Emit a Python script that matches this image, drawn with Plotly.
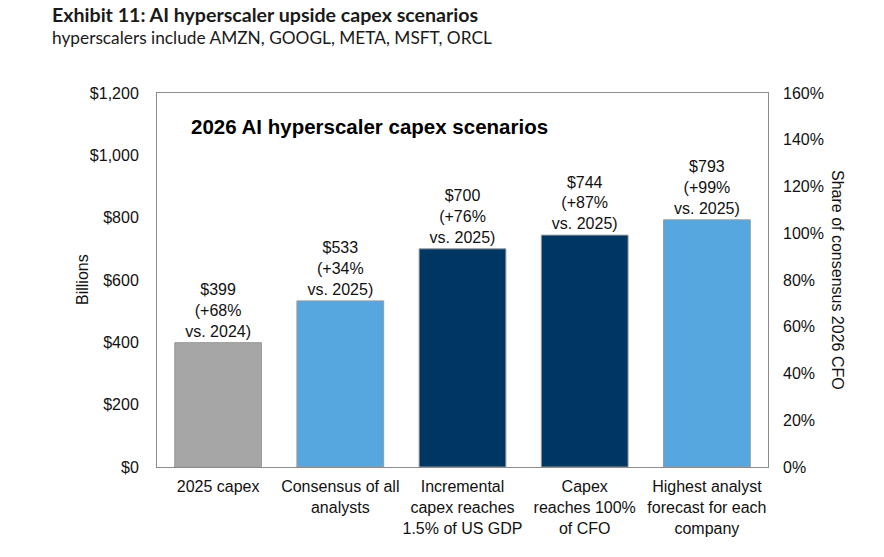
import plotly.graph_objects as go

categories = ["2025 capex", "Consensus of all<br>analysts", "Incremental<br>capex reaches<br>1.5% of US GDP",
              "Capex<br>reaches 100%<br>of CFO", "Highest analyst<br>forecast for each<br>company"]
values = [399, 533, 700, 744, 793]
growth = ["+68%", "+34%", "+76%", "+87%", "+99%"]
base_year = ["2024", "2025", "2025", "2025", "2025"]
colors = ["#A6A6A6", "#56A7E0", "#003662", "#003662", "#56A7E0"]

left_ticks = [0, 200, 400, 600, 800, 1000, 1200]
right_ticks = [0, 0.2, 0.4, 0.6, 0.8, 1.0, 1.2, 1.4, 1.6]

labels = [f"${v}<br>({g}<br>vs. {y})" for v, g, y in zip(values, growth, base_year)]

fig = go.Figure()
fig.add_trace(go.Bar(
    x=categories, y=values, marker=dict(color=colors, line=dict(width=1, color="#9a9a9a")),
    text=labels, textposition="outside", cliponaxis=False,
    textfont=dict(family="Liberation Sans, Arial", size=16, color="#111"),
    hoverinfo="skip", showlegend=False,
))
fig.add_trace(go.Scatter(x=categories, y=[None]*5, yaxis="y2", showlegend=False, hoverinfo="skip"))

axis_font = dict(family="Liberation Sans, Arial", size=16, color="#111")
fig.update_layout(
    width=884, height=557,
    margin=dict(l=157, r=116, t=93, b=90),
    paper_bgcolor="white", plot_bgcolor="white",
    bargap=0.29,
    uniformtext=dict(minsize=16, mode="show"),
    xaxis=dict(tickfont=axis_font, showline=True, linecolor="#8c8c8c", linewidth=1, mirror=True,
               ticks="", showgrid=False, fixedrange=True, ticklabelstandoff=5, automargin=False),
    yaxis=dict(range=[0, 1200], tickvals=left_ticks,
               ticktext=[f"${t:,}" for t in left_ticks], tickfont=axis_font,
               showgrid=False, zeroline=False, showline=True, linecolor="#8c8c8c", mirror=True,
               ticks="", ticklabelstandoff=14, automargin=False),
    yaxis2=dict(range=[0, 1.6], tickvals=right_ticks, tickformat=".0%", overlaying="y", side="right",
                tickfont=axis_font, showgrid=False, zeroline=False, ticks="", ticklabelstandoff=14,
                automargin=False),
    font=dict(family="Liberation Sans, Arial"),
)

fig.add_annotation(text="<b>Exhibit 11: AI hyperscaler upside capex scenarios</b>", xref="paper", yref="paper",
                   x=(50 - 157) / 611, y=1.0, yshift=79, xanchor="left", yanchor="middle", showarrow=False,
                   font=dict(family="Lato", size=19.6, color="#1a1a1a"))
fig.add_annotation(text="hyperscalers include AMZN, GOOGL, META, MSFT, ORCL", xref="paper", yref="paper",
                   x=(50 - 157) / 611, y=1.0, yshift=56, xanchor="left", yanchor="middle", showarrow=False,
                   font=dict(family="Lato", size=17.3, color="#1a1a1a"))
fig.add_annotation(text="<b>2026 AI hyperscaler capex scenarios</b>", xref="paper", yref="paper",
                   x=(189 - 157) / 611, y=1.0, yshift=-33, xanchor="left", yanchor="middle", showarrow=False,
                   font=dict(family="Liberation Sans, Arial", size=20.5, color="#000"))
fig.add_annotation(text="Billions", xref="paper", yref="paper",
                   x=(82 - 157) / 611, y=0.5, textangle=-90, xanchor="center", yanchor="middle",
                   showarrow=False, font=axis_font)
fig.add_annotation(text="Share of consensus 2026 CFO", xref="paper", yref="paper",
                   x=(838 - 157) / 611, y=0.5, textangle=90, xanchor="center", yanchor="middle",
                   showarrow=False, font=axis_font)

fig.write_html("out.html", config={"displayModeBar": False},
               post_script="document.body.style.margin='0';")
